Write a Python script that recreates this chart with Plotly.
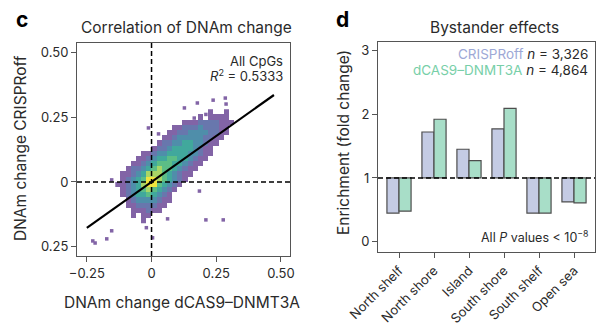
import numpy as np
import plotly.graph_objects as go

W, H = 603, 333
FONT = "Inter"

# ---------------- Panel c data ----------------
# density grid (levels 1..7, '.' = empty); rows top (y=0.27) to bottom (y=-0.15)
grid_x0, grid_dx = -0.13, 0.02
grid_y_top, grid_dy = 0.27, 0.02
density_rows = [
    "..................1..1..",
    "................1.1111..",
    ".............1112222111.",
    "...........11222322211..",
    "..........112233332211..",
    ".........112333332211...",
    "........122334433211....",
    ".......122344443211.....",
    ".....11233444433211.....",
    "....11234455443211......",
    "...11234555443211.......",
    "..12234565543211........",
    ".11234666543211.........",
    ".1234577654321..........",
    "1123467754321...........",
    ".12345654321............",
    ".1234454321.............",
    "..123333211.............",
    "..11222211..............",
    "...111211...............",
    "...1.11.................",
    ".....1..................",
]
level_colors = ["#8264a6", "#6877ad", "#4f8eaa", "#41a89c", "#5cbd86", "#a8d666", "#f0e43e"]

outlier_x = [0.177, 0.238, 0.285, 0.288, 0.127, 0.165, -0.012, 0.027, -0.154, -0.227, -0.218,
             -0.173, -0.154, -0.02, 0.004, 0.062, 0.21, 0.277, 0.185, 0.21]
outlier_y = [0.304, 0.315, 0.323, 0.300, 0.285, 0.246, 0.208, 0.185, 0.008, -0.227, -0.235,
             -0.219, -0.188, -0.176, -0.215, -0.142, -0.146, -0.146, -0.035, 0.26]

fit_slope, fit_intercept = 0.708, 0.0
fit_x = [-0.25, 0.473]

c_xticks = [-0.25, 0, 0.25, 0.5]
c_xticktext = ["\u22120.25", "0", "0.25", "0.50"]
c_yticks = [0.5, 0.25, 0, -0.25]
c_yticktext = ["0.50", "0.25", "0", "0.25"]

# ---------------- Panel d data ----------------
regions = ["North shelf", "North shore", "Island", "South shore", "South shelf", "Open sea"]
crisproff = [0.45, 1.72, 1.45, 1.77, 0.45, 0.625]
dcas9 = [0.48, 1.92, 1.27, 2.09, 0.45, 0.61]
baseline = 1.0
d_yticks = [0, 1, 2, 3]

# ---------------- Build ----------------
def fx(p):
    return p / W

def fy(p):
    return 1 - p / H

fig = go.Figure()

rows = density_rows[::-1]
z = [[(int(ch) if ch != "." else None) for ch in r] for r in rows]
ny = len(rows)
y0 = grid_y_top - grid_dy * (ny - 1)
cs = [[i / 6, c] for i, c in enumerate(level_colors)]
fig.add_trace(go.Heatmap(z=z, x0=grid_x0, dx=grid_dx, y0=y0, dy=grid_dy,
                         colorscale=cs, zmin=1, zmax=7, showscale=False,
                         xaxis="x", yaxis="y", hoverinfo="skip"))
fig.add_trace(go.Scatter(x=outlier_x, y=outlier_y, mode="markers",
                         marker=dict(symbol="square", size=3.5, color="#8264a6"),
                         xaxis="x", yaxis="y", showlegend=False, hoverinfo="skip"))
fx_arr = np.array(fit_x)
fig.add_trace(go.Scatter(x=fx_arr, y=fit_slope * fx_arr + fit_intercept, mode="lines",
                         line=dict(color="black", width=2.2),
                         xaxis="x", yaxis="y", showlegend=False))

yb = np.array(crisproff) - baseline
yg = np.array(dcas9) - baseline
fig.add_trace(go.Bar(x=regions, y=yb, base=baseline, marker=dict(color="#c4cbe4", line=dict(color="#4d4d4d", width=1.2)),
                     xaxis="x2", yaxis="y2", showlegend=False, name="CRISPRoff"))
fig.add_trace(go.Bar(x=regions, y=yg, base=baseline, marker=dict(color="#a8dec8", line=dict(color="#4d4d4d", width=1.2)),
                     xaxis="x2", yaxis="y2", showlegend=False, name="dCAS9-DNMT3A"))

axis_common = dict(showline=True, linecolor="#555", linewidth=1, mirror=True, ticks="outside",
                   ticklen=5, tickcolor="#555", showgrid=False, zeroline=False, automargin=False,
                   tickfont=dict(family=FONT, size=13, color="#2a2a2a"))

fig.update_layout(
    width=W, height=H, margin=dict(l=0, r=0, t=0, b=0, autoexpand=False),
    paper_bgcolor="white", plot_bgcolor="white",
    barmode="group", bargap=0.31, bargroupgap=0,
    showlegend=False,
    xaxis=dict(domain=[fx(77), fx(290)], range=[-0.288, 0.535], tickvals=c_xticks,
               ticktext=c_xticktext, anchor="y", **axis_common),
    yaxis=dict(domain=[fy(256), fy(43)], range=[-0.285, 0.535], tickvals=c_yticks,
               ticktext=c_yticktext, anchor="x", **axis_common),
    xaxis2=dict(domain=[fx(378), fx(595)], range=[-0.6, 5.6], anchor="y2", tickangle=-45,
                type="category", **axis_common),
    yaxis2=dict(domain=[fy(252), fy(42)], range=[-0.16, 3.13], tickvals=d_yticks, anchor="x2",
                **axis_common),
)

dash = dict(color="black", width=1.5, dash="5px,3px")
fig.add_shape(type="line", xref="x", yref="y domain", x0=0, x1=0, y0=0, y1=1, line=dash, layer="above")
fig.add_shape(type="line", xref="x domain", yref="y", x0=0, x1=1, y0=0, y1=0, line=dash, layer="above")
fig.add_shape(type="line", xref="x2 domain", yref="y2", x0=0, x1=1, y0=baseline, y1=baseline, line=dash, layer="above")

def ann(text, x, y, size=14, xanchor="center", color="#2a2a2a", angle=0, bold=False):
    fig.add_annotation(text=("<b>%s</b>" % text) if bold else text, x=fx(x), y=fy(y),
                       xref="paper", yref="paper", showarrow=False, xanchor=xanchor,
                       yanchor="middle", textangle=angle,
                       font=dict(family=FONT, size=size, color=color))

ann("c", 22, 20, size=21, bold=True, color="black")
ann("d", 342, 20, size=21, bold=True, color="black")
ann("Correlation of DNAm change", 186, 27, size=15.5)
ann("Bystander effects", 494, 27, size=15.5)
ann("DNAm change CRISPRoff", 20, 148, size=15.5, angle=-90)
ann("DNAm change dCAS9\u2013DNMT3A", 182, 302, size=15.5)
ann("Enrichment (fold change)", 343, 143, size=15.5, angle=-90)
ann("All CpGs", 285, 61, size=13, xanchor="right")
ann("<i>R</i><sup>2</sup> = 0.5333", 285, 75, size=13, xanchor="right")
ann("<span style='color:#9da8d6'>CRISPRoff</span> <i>n</i> = 3,326", 590, 54, size=13.5, xanchor="right")
ann("<span style='color:#78cfa8'>dCAS9\u2013DNMT3A</span> <i>n</i> = 4,864", 590, 70, size=13.5, xanchor="right")
ann("All <i>P</i> values &lt; 10<sup>\u22128</sup>", 590, 237, size=12.5, xanchor="right")

fig.write_html("out.html")
